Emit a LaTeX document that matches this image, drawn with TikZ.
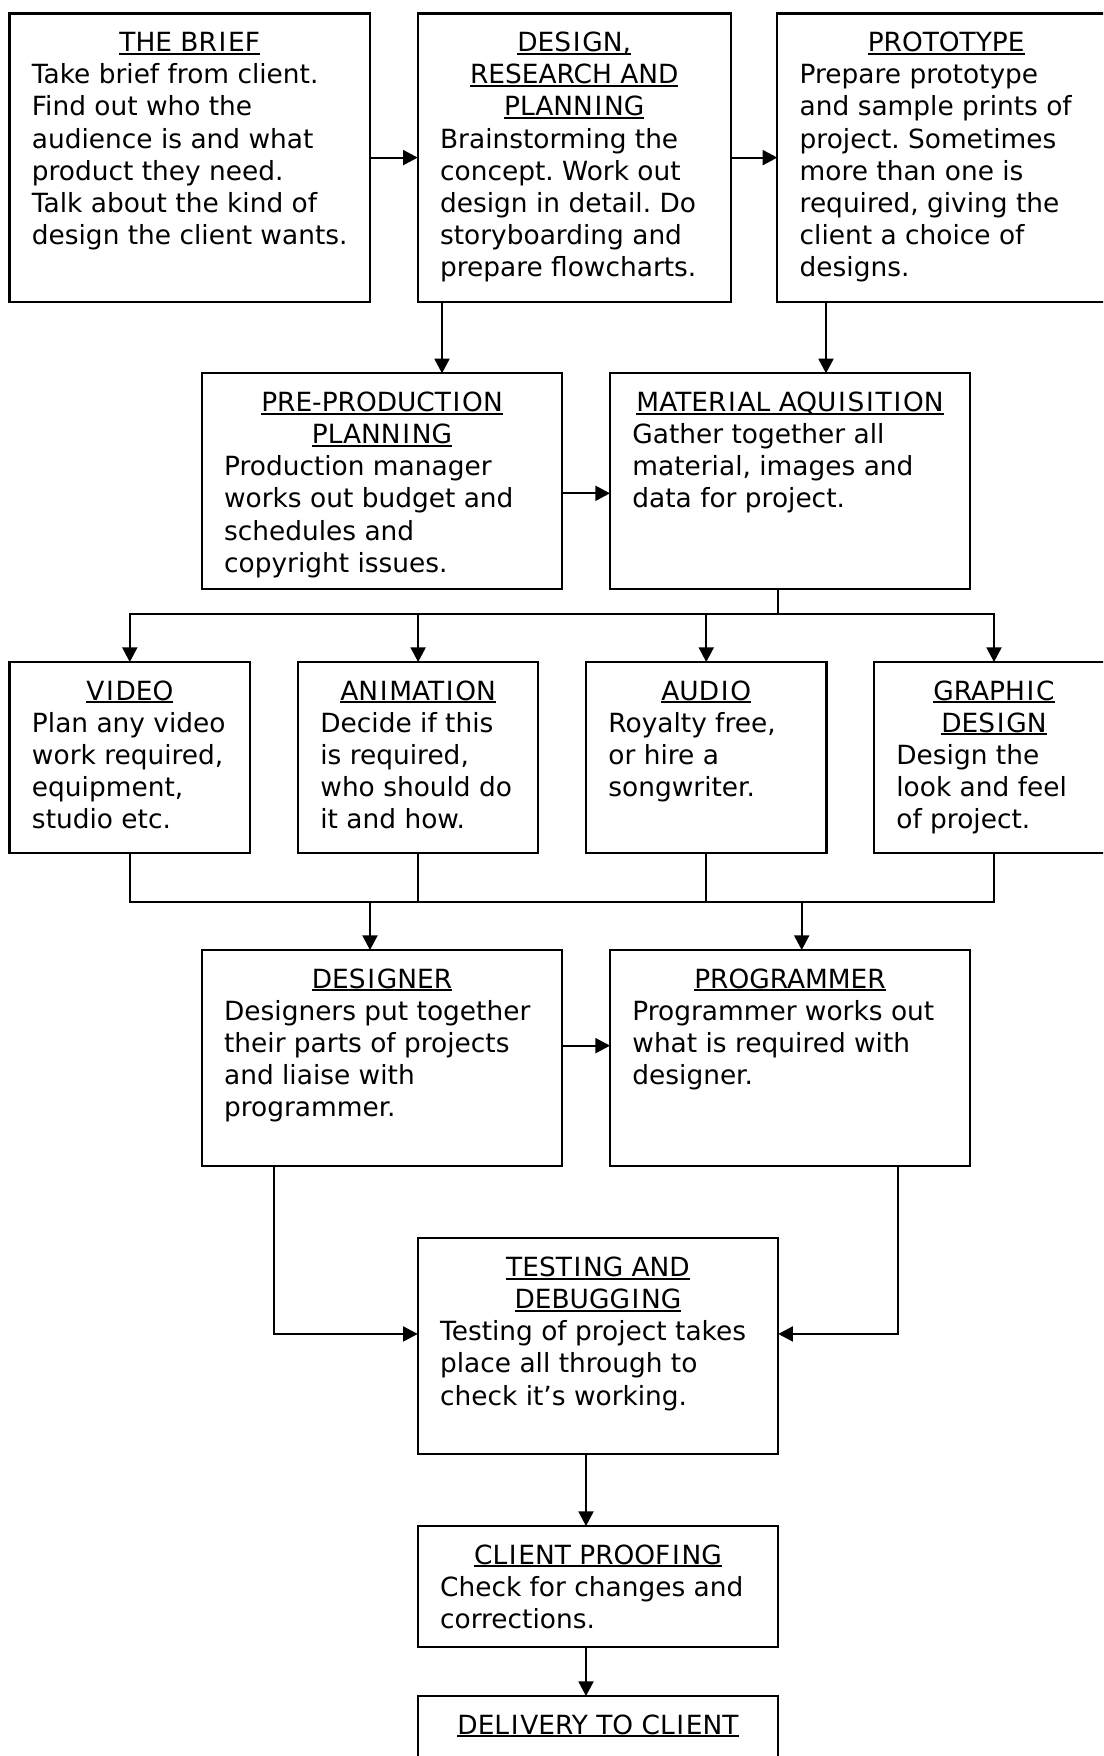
\documentclass[tikz,border=0pt]{standalone}
\usepackage{fontspec}
\setmainfont{DejaVu Sans}
\usetikzlibrary{arrows.meta,calc}
\newcommand\ulx[1]{\setbox0\hbox{#1}\rlap{\rule[-1.6pt]{\wd0}{1pt}}\box0}
\newcommand\capI{\kern0.065em I\kern0.065em}
\newcommand\ttl[1]{\begin{tabular}[t]{@{}c@{}}#1\end{tabular}}
\newcommand\bdy[1]{\begin{tabular}[t]{@{}l@{}}#1\end{tabular}}
\tikzset{
  every node/.style={font=\fontsize{13.2pt}{16.1pt}\selectfont\frenchspacing},
  flowbox/.style={draw, line width=1.15pt, inner sep=0pt, outer sep=0pt, fill=white},
  conn/.style={line width=0.95pt, line cap=rect},
  arr/.style={line width=0.95pt, -{Triangle[length=7.3pt,width=7.5pt]}},
  ttlnode/.style={anchor=base, inner sep=0pt},
  bdynode/.style={anchor=base west, inner sep=0pt}
}
% name, left, top, width, height
\newcommand\mkbox[5]{\node[flowbox, minimum width=#4*0.5pt, minimum height=#5*0.5pt, anchor=north west] (#1) at (#2,#3) {};}
% name, number of title lines, title, body
\newcommand\mktext[4]{%
  \node[ttlnode] (#1T) at ($(#1.north)+(0,38)$) {\ttl{#3}};
  \node[bdynode] (#1B) at ($(#1.north west)+(22,{38+#2*32.2})$) {\bdy{#4}};}
\begin{document}
\begin{tikzpicture}[x=0.5pt,y=-0.5pt]
\useasboundingbox (0,0) rectangle (1103,1756);
\fill[white] (0,0) rectangle (1103,1756);
\clip (0,0) rectangle (1103,1756);

\mkbox{brief}{9.5}{13.5}{360.5}{288.2}
\mkbox{design}{417.7}{13.5}{313}{288.2}
\mkbox{proto}{777.3}{13.5}{337.7}{288.2}
\mkbox{preprod}{201.7}{373.3}{360.6}{216}
\mkbox{material}{610}{373.3}{360}{216}
\mkbox{video}{9.6}{662}{240.4}{191.3}
\mkbox{anim}{298}{662}{240.3}{191.3}
\mkbox{audio}{586}{662}{240.5}{191.3}
\mkbox{graphic}{874}{662}{240}{191.3}
\mkbox{designer}{201.7}{950}{360.6}{215.7}
\mkbox{programmer}{610}{950}{360}{215.7}
\mkbox{testing}{417.7}{1238.3}{360.6}{215.7}
\mkbox{client}{417.7}{1526}{360.6}{120.7}
\mkbox{delivery}{417.7}{1696}{360.6}{110}

\mktext{brief}{1}{\ulx{THE BR\capI EF}}{Take brief from client.\\Find out who the\\audience is and what\\product they need.\\Talk about the kind of\\design the client wants.}
\mktext{design}{3}{\ulx{DES\capI GN,}\\\ulx{RESEARCH AND}\\\ulx{PLANN\capI NG}}{Brainstorming the\\concept. Work out\\design in detail. Do\\storyboarding and\\prepare flowcharts.}
\mktext{proto}{1}{\ulx{PROTOTYPE}}{Prepare prototype\\and sample prints of\\project. Sometimes\\more than one is\\required, giving the\\client a choice of\\designs.}
\mktext{preprod}{2}{\ulx{PRE-PRODUCT\capI ON}\\\ulx{PLANN\capI NG}}{Production manager\\works out budget and\\schedules and\\copyright issues.}
\mktext{material}{1}{\ulx{MATER\capI AL AQU\capI S\capI T\capI ON}}{Gather together all\\material, images and\\data for project.}
\mktext{video}{1}{\ulx{V\capI DEO}}{Plan any video\\work required,\\equipment,\\studio etc.}
\mktext{anim}{1}{\ulx{AN\capI MAT\capI ON}}{Decide if this\\is required,\\who should do\\it and how.}
\mktext{audio}{1}{\ulx{AUD\capI O}}{Royalty free,\\or hire a\\songwriter.}
\mktext{graphic}{2}{\ulx{GRAPH\capI C}\\\ulx{DES\capI GN}}{Design the\\look and feel\\of project.}
\mktext{designer}{1}{\ulx{DES\capI GNER}}{Designers put together\\their parts of projects\\and liaise with\\programmer.}
\mktext{programmer}{1}{\ulx{PROGRAMMER}}{Programmer works out\\what is required with\\designer.}
\mktext{testing}{2}{\ulx{TEST\capI NG AND}\\\ulx{DEBUGG\capI NG}}{Testing of project takes\\place all through to\\check it’s working.}
\mktext{client}{1}{\ulx{CL\capI ENT PROOF\capI NG}}{Check for changes and\\corrections.}
\node[ttlnode] (deliveryT) at ($(delivery.north)+(0,38)$) {\ttl{\ulx{DEL\capI VERY TO CL\capI ENT}}};

% connectors
\draw[arr] (brief.east) -- (design.west);
\draw[arr] (design.east) -- (proto.west);
\coordinate (c1) at ($(design.south west)+(24.3,0)$);
\draw[arr] (c1) -- (c1 |- preprod.north);
\coordinate (c2) at ($(proto.south west)+(48.7,0)$);
\draw[arr] (c2) -- (c2 |- material.north);
\coordinate (c3) at ($(preprod.east)+(0,12)$);
\draw[arr] (c3) -- (c3 -| material.west);

\coordinate (bus1) at ($(material.south)+(-11.7,25)$);
\draw[conn] (bus1 |- material.south) -- (bus1);
\draw[conn] (video.north |- bus1) -- (graphic.north |- bus1);
\foreach \n in {video,anim,audio,graphic} \draw[arr] (\n.north |- bus1) -- (\n.north);

\coordinate (bus2) at ($(video.south)+(0,48.4)$);
\foreach \n in {video,anim,audio,graphic} \draw[conn] (\n.south) -- (\n.south |- bus2);
\draw[conn] (video.south |- bus2) -- (graphic.south |- bus2);
\coordinate (c4) at ($(designer.north)+(-12,0)$);
\draw[arr] (c4 |- bus2) -- (c4);
\coordinate (c5) at ($(programmer.north)+(11.7,0)$);
\draw[arr] (c5 |- bus2) -- (c5);

\coordinate (c6) at ($(designer.east)+(0,-12.2)$);
\draw[arr] (c6) -- (c6 -| programmer.west);

\coordinate (c7) at ($(testing.west)+(0,-12.2)$);
\coordinate (c8) at ($(testing.east)+(0,-12.2)$);
\draw[arr] ($(designer.south west)+(72.3,0)$) |- (c7);
\draw[arr] ($(programmer.south east)+(-71.7,0)$) |- (c8);

\coordinate (c9) at ($(testing.south)+(-12,0)$);
\draw[arr] (c9) -- (c9 |- client.north);
\coordinate (c10) at ($(client.south)+(-12,0)$);
\draw[arr] (c10) -- (c10 |- delivery.north);
\end{tikzpicture}
\end{document}
